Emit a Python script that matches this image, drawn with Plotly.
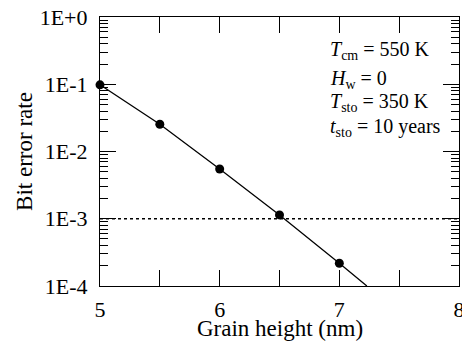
import plotly.graph_objects as go

grain_height = [5.0, 5.5, 6.0, 6.5, 7.0]
bit_error_rate = [0.098, 0.0254, 0.0055, 0.00114, 0.000218]
line_end_x = 7.23
line_end_y = 1e-4
threshold_x = [5.0, 8.0]
threshold_y = [1e-3, 1e-3]
y_tickvals = [1, 0.1, 0.01, 0.001, 0.0001]
y_ticktext = ["1E+0", "1E-1", "1E-2", "1E-3", "1E-4"]
x_tickvals = [5, 6, 7, 8]
x_title = "Grain height (nm)"
y_title = "Bit error rate"
labels = [
    "<i>T</i><sub>cm</sub> = 550 K",
    "<i>H</i><sub>w</sub> = 0",
    "<i>T</i><sub>sto</sub> = 350 K",
    "<i>t</i><sub>sto</sub> = 10 years",
]

FONT = "Liberation Serif, Times New Roman, serif"
fig = go.Figure()
fig.add_trace(go.Scatter(x=threshold_x, y=threshold_y, mode="lines",
                         line=dict(color="black", width=1.5, dash="dot"),
                         showlegend=False))
fig.add_trace(go.Scatter(x=grain_height + [line_end_x], y=bit_error_rate + [line_end_y],
                         mode="lines", line=dict(color="black", width=1.3),
                         showlegend=False))
fig.add_trace(go.Scatter(x=grain_height, y=bit_error_rate, mode="markers",
                         marker=dict(color="black", size=9),
                         showlegend=False, cliponaxis=False))
# invisible copy on a right-hand y axis so that axis (frame + ticks) is drawn
fig.add_trace(go.Scatter(x=grain_height, y=bit_error_rate, mode="markers",
                         marker=dict(opacity=0), yaxis="y2", showlegend=False,
                         hoverinfo="skip"))

axis_common = dict(tickwidth=1, tickcolor="black", showline=True, linecolor="black",
                   linewidth=1.2, showgrid=False, zeroline=False,
                   automargin=False, ticklabeloverflow="allow",
                   tickfont=dict(family=FONT, size=22, color="black"))
minor_y = dict(dtick="D1", ticks="inside", ticklen=8, tickcolor="black", tickwidth=1,
               showgrid=False)

fig.update_layout(
    template="none",
    width=462, height=354,
    margin=dict(l=100, r=3, t=17, b=68),
    plot_bgcolor="white", paper_bgcolor="white",
    font=dict(family=FONT, size=22, color="black"),
    xaxis=dict(range=[5, 8], tickvals=x_tickvals, ticks="inside", ticklen=16,
               ticklabelstandoff=3, mirror="allticks",
               minor=dict(dtick=0.5, ticks="inside", ticklen=8, tickcolor="black", tickwidth=1,
                          showgrid=False),
               **axis_common),
    yaxis=dict(type="log", range=[-4, 0], tickvals=y_tickvals, ticktext=y_ticktext,
               ticks="inside", ticklen=16, ticklabelstandoff=7, mirror="allticks",
               minor=minor_y,
               title=dict(text=y_title, font=dict(family=FONT, size=23), standoff=0),
               **axis_common),
    yaxis2=dict(type="log", range=[-4, 0], tickvals=y_tickvals, overlaying="y",
                side="right", ticks="inside", ticklen=13, showticklabels=False,
                minor=minor_y, **axis_common),
)

# x-axis title placed as an annotation for exact vertical placement
fig.add_annotation(text=x_title, xref="paper", yref="paper", x=0.5, y=0,
                   xanchor="center", yanchor="middle", yshift=-42, showarrow=False,
                   font=dict(family=FONT, size=23, color="black"))

ys = [52, 81, 104, 129]
for txt, yb in zip(labels, ys):
    fig.add_annotation(text=txt, xref="paper", yref="paper",
                       x=(329 - 100) / 359, y=1 - (yb - 17) / 269,
                       xanchor="left", yanchor="bottom", showarrow=False,
                       font=dict(family=FONT, size=20, color="black"),
                       yshift=-13, xshift=-1)

fig.write_html("out.html", config={"displayModeBar": False},
               post_script="document.body.style.margin='0';document.body.style.overflow='hidden';")
